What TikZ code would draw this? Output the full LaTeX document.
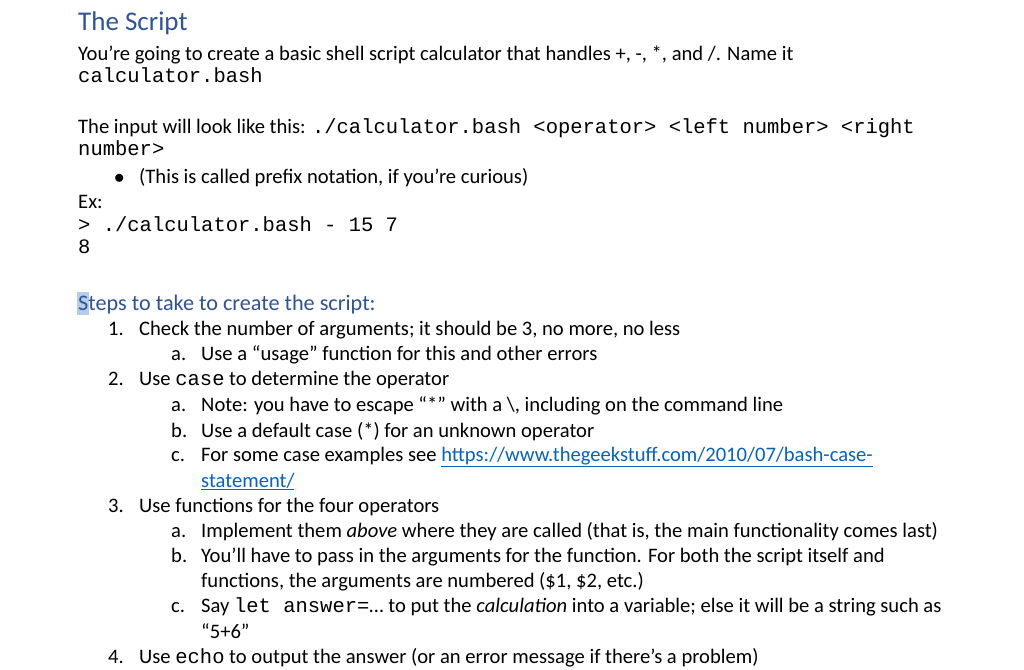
\documentclass[tikz,border=0pt]{standalone}
\usepackage{fontspec}
\setmainfont{Carlito}
\setmonofont{Liberation Mono}
\definecolor{titleblue}{RGB}{47,84,150}
\definecolor{linkblue}{RGB}{5,99,193}
\definecolor{selblue}{RGB}{180,205,235}
\begin{document}
\begin{tikzpicture}[x=1pt,y=-1pt,
  t/.style={anchor=base west,inner sep=0pt,font=\fontsize{20.6}{24}\selectfont}]
\useasboundingbox[fill=white] (0,0) rectangle (1024,669);
\newcommand{\cd}[1]{{\ttfamily\fontsize{20.5}{24}\selectfont #1}}
\node[t,font=\fontsize{27}{30}\selectfont,text=titleblue] (title) at (78,31) {The Script};
\node[t] (l1) at (78,60) {You’re going to create a basic shell script calculator that handles +, -, *, and /. Name it};
\node[t] (l2) at (78,82) {\cd{calculator.bash}};
\node[t] (l3) at (78,133) {The input will look like this: \cd{./calculator.bash <operator> <left number> <right}};
\node[t] (l4) at (78,155) {\cd{number>}};
\node[t] (b1) at (114,183) {$\bullet$};
\node[t] (l5) at (139,183) {(This is called prefix notation, if you’re curious)};
\node[t] (l6) at (78,208) {Ex:};
\node[t] (l7) at (78,231) {\cd{> ./calculator.bash - 15 7}};
\node[t] (l8) at (78,253) {\cd{8}};
\fill[selblue] (77,292) rectangle (89,315);
\node[t,text=titleblue,font=\fontsize{22.2}{26}\selectfont] (steps) at (78,310) {Steps to take to create the script:};
\node[t] (n1) at (108,335) {1.};
\node[t] (s1) at (139,335) {Check the number of arguments; it should be 3, no more, no less};
\node[t] (n1a) at (171,360) {a.};
\node[t] (s1a) at (201,360) {Use a “usage” function for this and other errors};
\node[t] (n2) at (108,385) {2.};
\node[t] (s2) at (139,385) {Use \cd{case} to determine the operator};
\node[t] (n2a) at (171,411) {a.};
\node[t] (s2a) at (201,411) {Note: you have to escape “*” with a \textbackslash, including on the command line};
\node[t] (n2b) at (171,437) {b.};
\node[t] (s2b) at (201,437) {Use a default case (*) for an unknown operator};
\node[t] (n2c) at (171,461) {c.};
\node[t] (s2c) at (201,461) {For some case examples see \textcolor{linkblue}{\underline{https://www.thegeekstuff.com/2010/07/bash-case-}}};
\node[t,text=linkblue] (s2c2) at (201,487) {\underline{statement/}};
\node[t] (n3) at (108,512) {3.};
\node[t] (s3) at (139,512) {Use functions for the four operators};
\node[t] (n3a) at (171,537) {a.};
\node[t] (s3a) at (201,537) {Implement them \textit{above} where they are called (that is, the main functionality comes last)};
\node[t] (n3b) at (171,562) {b.};
\node[t] (s3b) at (201,562) {You’ll have to pass in the arguments for the function. For both the script itself and};
\node[t] (s3b2) at (201,587) {functions, the arguments are numbered (\$1, \$2, etc.)};
\node[t] (n3c) at (171,612) {c.};
\node[t] (s3c) at (201,612) {Say \cd{let answer=}… to put the \textit{calculation} into a variable; else it will be a string such as};
\node[t] (s3c2) at (201,638) {“5+6”};
\node[t] (n4) at (108,663) {4.};
\node[t] (s4) at (139,663) {Use \cd{echo} to output the answer (or an error message if there’s a problem)};
\end{tikzpicture}
\end{document}
